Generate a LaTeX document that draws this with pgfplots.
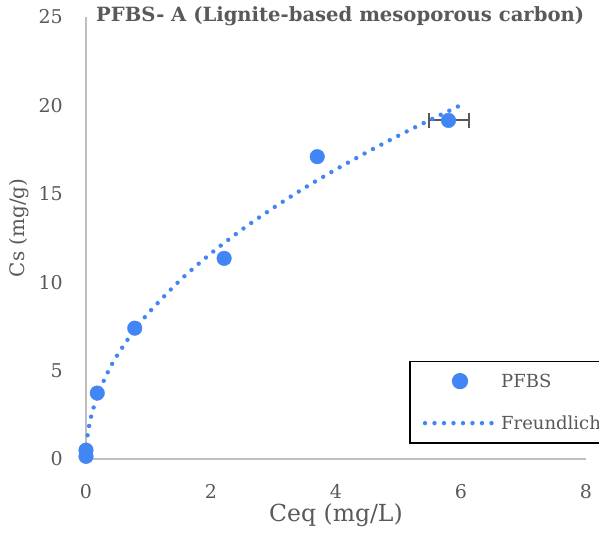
\documentclass[border=0pt]{standalone}
\usepackage{fontspec}
\setmainfont{DejaVu Serif}
\usepackage{pgfplots}
\pgfplotsset{compat=1.18}
\definecolor{ptblue}{HTML}{4285F4}
\definecolor{txtgray}{HTML}{595959}
\definecolor{axgray}{HTML}{BFBFBF}
\pgfplotsset{
  marklegend/.style={legend image code/.code={\draw[##1] plot coordinates {(35pt,0pt)};}},
  linelegend/.style={legend image code/.code={\draw[##1] (0pt,0pt) -- (72pt,0pt);}},
}
\begin{document}
\begin{tikzpicture}
\useasboundingbox (-86pt,-77pt) rectangle (513pt,459pt);
\begin{axis}[
  scale only axis, width=500pt, height=442pt,
  xmin=0, xmax=8, ymin=0, ymax=25,
  xtick={0,2,4,6,8}, ytick={0,5,10,15,20,25},
  axis x line*=bottom, axis y line*=left,
  axis line style={axgray, line width=1.3pt, -},
  major tick length=0pt,
  /pgf/number format/assume math mode=true,
  tick label style={font=\fontsize{19}{22}\selectfont, text=txtgray, inner sep=0pt},
  xticklabel style={anchor=north, yshift=-25pt},
  yticklabel style={anchor=east, xshift=-23pt},
  xlabel={Ceq (mg/L)}, ylabel={Cs (mg/g)},
  label style={text=txtgray},
  xlabel style={font=\fontsize{23.5}{26}\selectfont, at={(axis description cs:0.5,-0.128)}, anchor=center},
  ylabel style={font=\fontsize{20}{24}\selectfont, at={(axis description cs:-0.134,0.523)}, anchor=center},
  clip=false,
  legend style={at={(axis description cs:0.646,0.222)}, anchor=north west,
    draw=black, line width=1.6pt, fill=white,
    font=\fontsize{18}{20}\selectfont, text=txtgray,
    inner xsep=13pt, inner ysep=10pt, row sep=23pt,
    /tikz/every even column/.append style={column sep=0pt}},
  legend cell align=left,
]
% error bar for last point
\addplot[only marks, mark=none, forget plot,
  error bars/.cd, x dir=both, x explicit,
  error bar style={txtgray, line width=2pt},
  error mark options={txtgray, line width=2pt, mark size=7.5pt, rotate=90}]
  coordinates {(5.80,19.15) +- (0.32,0)};
\addplot[only marks, mark=*, mark size=7.3pt, color=ptblue,
  mark options={fill=ptblue, draw=ptblue}, marklegend]
  coordinates {(0,0.15) (0,0.5) (0.18,3.73) (0.78,7.4) (2.21,11.35) (3.70,17.1) (5.80,19.15)};
\addlegendentry{PFBS}
\addplot[ptblue, line width=4.4pt, dash pattern=on 0pt off 9.5pt, line cap=round, smooth, mark=none, linelegend]
  coordinates {(0.001,0.27) (0.005,0.60) (0.02,1.20) (0.05,1.88) (0.1,2.65) (0.2,3.73) (0.35,4.92) (0.5,5.87) (0.75,7.17) (1,8.26) (1.5,10.09) (2,11.63) (2.5,12.99) (3,14.21) (3.5,15.34) (4,16.38) (4.5,17.36) (5,18.29) (5.5,19.17) (6,20.02)};
\addlegendentry{Freundlich}
\node[anchor=base west, font=\fontsize{19.6}{22}\selectfont\bfseries, text=txtgray, inner sep=0pt]
  at (rel axis cs:0,1) [xshift=10pt, yshift=-5pt] {PFBS- A (Lignite-based mesoporous carbon)};
\end{axis}
\end{tikzpicture}
\end{document}
